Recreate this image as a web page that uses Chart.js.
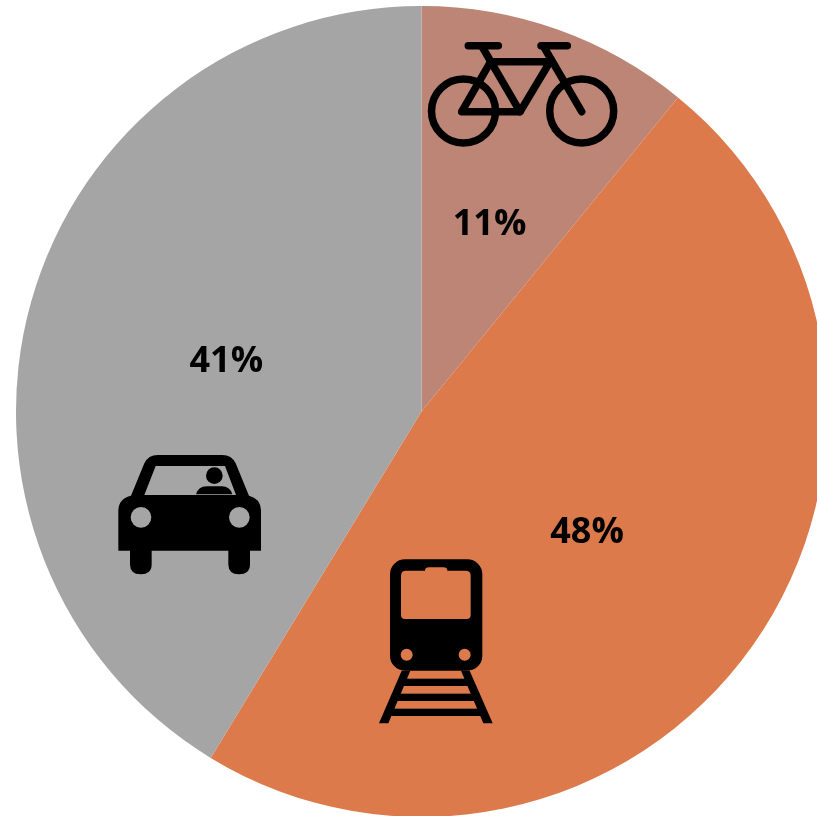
<!DOCTYPE html>
<html><head><meta charset="utf-8">
<style>html,body{margin:0;padding:0;background:#fff;overflow:hidden;width:817px;height:816px}canvas{display:block}</style>
<script src="https://cdn.jsdelivr.net/npm/chart.js@4/dist/chart.umd.min.js"></script>
</head><body><canvas id="c" width="843" height="823"></canvas>
<script>
const categories = ['Bicycle', 'Train', 'Car'];
const shares = [10.9, 47.8, 41.3];
const sliceColors = ['#BC8576', '#DD7A4B', '#A5A5A5'];

function line(ctx, a, b, c, d) { ctx.beginPath(); ctx.moveTo(a, b); ctx.lineTo(c, d); ctx.stroke(); }
function bike(ctx) {
  ctx.strokeStyle = '#000'; ctx.lineWidth = 7.5; ctx.lineCap = 'round'; ctx.lineJoin = 'round';
  ctx.beginPath(); ctx.arc(463.5, 111, 32, 0, 7); ctx.stroke();
  ctx.beginPath(); ctx.arc(581.7, 111, 32, 0, 7); ctx.stroke();
  line(ctx, 468.3, 45.7, 498.3, 45.7);
  line(ctx, 541, 45.7, 567.3, 45.7);
  line(ctx, 481.7, 46, 520, 111.7);
  line(ctx, 543.3, 46, 581.7, 111.7);
  ctx.beginPath();
  ctx.moveTo(490.7, 61.7); ctx.lineTo(550, 61.7); ctx.lineTo(520, 111.7); ctx.lineTo(461.7, 111.7); ctx.closePath(); ctx.stroke();
}
function car(ctx) {
  ctx.save(); ctx.translate(105, 445); ctx.scale(1/3, 1/3);
  ctx.fillStyle = '#000';
  const p = new Path2D();
  p.moveTo(40, 317); p.lineTo(40, 195);
  p.quadraticCurveTo(42, 160, 78, 152);
  p.lineTo(118, 55); p.quadraticCurveTo(130, 30, 158, 30);
  p.lineTo(352, 30); p.quadraticCurveTo(380, 30, 392, 55);
  p.lineTo(432, 152); p.quadraticCurveTo(466, 160, 468, 195);
  p.lineTo(468, 317); p.lineTo(435, 317); p.lineTo(435, 358);
  p.quadraticCurveTo(435, 388, 402, 388); p.quadraticCurveTo(370, 388, 370, 358);
  p.lineTo(370, 317); p.lineTo(140, 317); p.lineTo(140, 358);
  p.quadraticCurveTo(140, 388, 107, 388); p.quadraticCurveTo(75, 388, 75, 358);
  p.lineTo(75, 317); p.closePath();
  p.moveTo(152, 63); p.lineTo(118, 150); p.lineTo(393, 150); p.lineTo(360, 63); p.closePath();
  p.moveTo(139, 217); p.arc(108, 217, 31, 0, Math.PI * 2); p.closePath();
  p.moveTo(434, 217); p.arc(403, 217, 31, 0, Math.PI * 2); p.closePath();
  ctx.fill(p, 'evenodd');
  ctx.beginPath(); ctx.arc(328, 92, 25, 0, Math.PI * 2); ctx.fill();
  ctx.beginPath(); ctx.moveTo(273, 148); ctx.quadraticCurveTo(280, 124, 305, 124);
  ctx.lineTo(350, 124); ctx.quadraticCurveTo(375, 124, 382, 148); ctx.closePath(); ctx.fill();
  ctx.restore();
}
function train(ctx) {
  ctx.save(); ctx.translate(365, 550); ctx.scale(1/3, 1/3);
  ctx.fillStyle = '#000';
  const p = new Path2D();
  p.roundRect(75, 28, 277, 334, 45);
  p.moveTo(123, 62); p.lineTo(180, 62); p.quadraticCurveTo(180, 52, 192, 52);
  p.lineTo(235, 52); p.quadraticCurveTo(247, 52, 247, 62); p.lineTo(302, 62);
  p.quadraticCurveTo(317, 62, 317, 77); p.lineTo(317, 195);
  p.quadraticCurveTo(317, 207, 305, 207); p.lineTo(120, 207);
  p.quadraticCurveTo(108, 207, 108, 195); p.lineTo(108, 77);
  p.quadraticCurveTo(108, 62, 123, 62); p.closePath();
  p.moveTo(143, 314); p.arc(125, 314, 18, 0, Math.PI * 2); p.closePath();
  p.moveTo(317, 314); p.arc(299, 314, 18, 0, Math.PI * 2); p.closePath();
  ctx.fill(p, 'evenodd');
  ctx.beginPath(); ctx.moveTo(110, 362); ctx.lineTo(42, 520); ctx.lineTo(70, 520); ctx.lineTo(136, 362); ctx.closePath(); ctx.fill();
  ctx.beginPath(); ctx.moveTo(288, 362); ctx.lineTo(355, 520); ctx.lineTo(383, 520); ctx.lineTo(314, 362); ctx.closePath(); ctx.fill();
  ctx.fillRect(105, 386, 215, 22);
  ctx.fillRect(88, 431, 250, 22);
  ctx.fillRect(68, 476, 292, 22);
  ctx.restore();
}
const overlay = {
  id: 'overlay',
  afterDatasetsDraw(chart) {
    const ctx = chart.ctx;
    bike(ctx); car(ctx); train(ctx);
    const arcs = chart.getDatasetMeta(0).data;
    ctx.save();
    ctx.fillStyle = '#000';
    ctx.font = 'bold 36px "Open Sans"';
    ctx.textAlign = 'center'; ctx.textBaseline = 'middle';
    arcs.forEach((a, i) => {
      const mid = (a.startAngle + a.endAngle) / 2;
      const r = a.outerRadius * 0.5;
      ctx.fillText(Math.round(shares[i]) + '%', a.x + r * Math.cos(mid), a.y + r * Math.sin(mid) + 4.5);
    });
    ctx.restore();
  }
};
new Chart(document.getElementById('c'), {
  type: 'pie',
  data: { labels: categories, datasets: [{ data: shares, backgroundColor: sliceColors, borderWidth: 0, radius: 405.5 }] },
  options: {
    responsive: false, animation: false,
    layout: { padding: 0 },
    plugins: { legend: { display: false }, tooltip: { enabled: false }, title: { display: false } }
  },
  plugins: [overlay]
});
</script></body></html>
